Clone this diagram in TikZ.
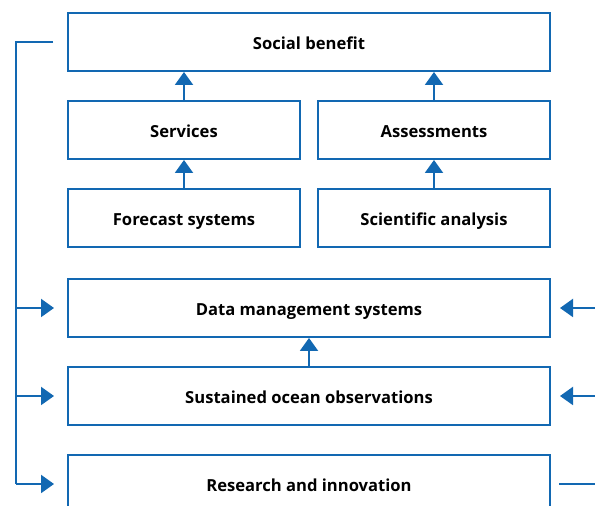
\documentclass[tikz,border=0pt]{standalone}
\usepackage{fontspec}
\setmainfont{Open Sans}
\usepackage{xcolor}
\usetikzlibrary{arrows.meta,positioning}
\definecolor{goosblue}{RGB}{18,104,178}

\tikzset{
  box/.style={draw=goosblue, line width=2pt, fill=white, minimum height=58pt,
    inner sep=0pt, text height=14.5pt, text depth=0pt,
    font=\fontsize{16.6}{19}\selectfont\bfseries},
  widebox/.style={box, minimum width=482pt},
  halfbox/.style={box, minimum width=232pt},
  link/.style={draw=goosblue, line width=2pt},
  flow/.style={link, -{Triangle[length=13pt,width=18pt]}}
}

\begin{document}
\begin{tikzpicture}[x=1pt,y=1pt]
        \clip (0,0) rectangle (595,506);
        \fill[white] (0,0) rectangle (595,506);

        % boxes
        \node[widebox] (social) at (309,464) {Social benefit};
        \node[halfbox] (services) at (184,376) {Services};
        \node[halfbox] (assess) at (434,376) {Assessments};
        \node[halfbox] (forecast) at (184,288) {Forecast systems};
        \node[halfbox] (science) at (434,288) {Scientific analysis};
        \node[widebox] (datamgmt) at (309,198) {Data management systems};
        \node[widebox] (sustained) at (309,110) {Sustained ocean observations};
        \node[widebox] (research) at (309,22) {Research and innovation};

        % upward flow
        \draw[flow] (services) -- (social.south -| services);
        \draw[flow] (assess) -- (social.south -| assess);
        \draw[flow] (forecast) -- (services);
        \draw[flow] (science) -- (assess);
        \draw[flow] (sustained) -- (datamgmt);

        % feedback rail on the left
        \coordinate (railtop) at ([xshift=-14pt]social.west);
        \coordinate (rail) at (16,0);
        \draw[link] (railtop) -| (rail |- research.west);
        \draw[flow] (rail |- datamgmt.west) -- ([xshift=-13pt]datamgmt.west);
        \draw[flow] (rail |- sustained.west) -- ([xshift=-13pt]sustained.west);
        \draw[flow] (rail |- research.west) -- ([xshift=-13pt]research.west);

        % inputs and output on the right
        \coordinate (edge) at (595,0);
        \draw[flow] (edge |- datamgmt.east) -- ([xshift=9pt]datamgmt.east);
        \draw[flow] (edge |- sustained.east) -- ([xshift=9pt]sustained.east);
        \draw[link] ([xshift=8pt]research.east) -- (edge |- research.east);
    \end{tikzpicture}
\end{document}
